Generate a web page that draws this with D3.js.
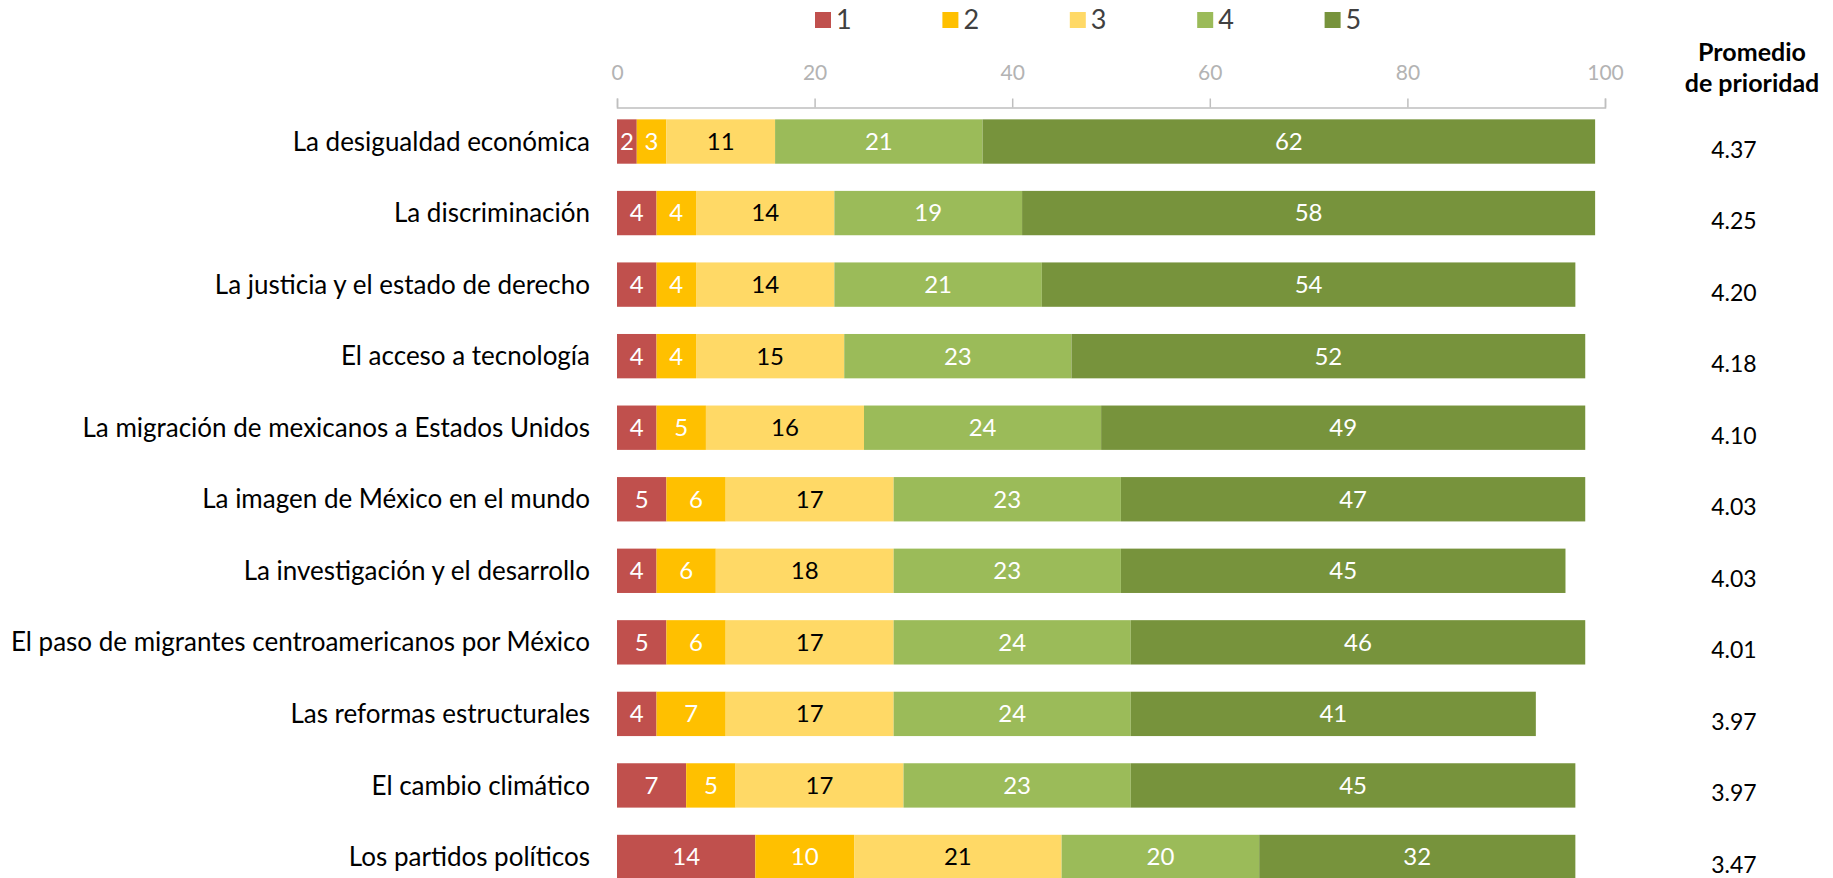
<!DOCTYPE html>
<html>
<head>
<meta charset="utf-8">
<script src="https://cdn.jsdelivr.net/npm/d3@7"></script>
<style>
  body { margin: 0; background: #fff; }
  svg text { font-family: Lato, "Open Sans", sans-serif; }
</style>
</head>
<body>
<div id="chart"></div>
<script>
// Categories (top to bottom)
const categories = [
  "La desigualdad económica",
  "La discriminación",
  "La justicia y el estado de derecho",
  "El acceso a tecnología",
  "La migración de mexicanos a Estados Unidos",
  "La imagen de México en el mundo",
  "La investigación y el desarrollo",
  "El paso de migrantes centroamericanos por México",
  "Las reformas estructurales",
  "El cambio climático",
  "Los partidos políticos"
];

// Percentage of answers per priority level
const serie1 = [2, 4, 4, 4, 4, 5, 4, 5, 4, 7, 14];
const serie2 = [3, 4, 4, 4, 5, 6, 6, 6, 7, 5, 10];
const serie3 = [11, 14, 14, 15, 16, 17, 18, 17, 17, 17, 21];
const serie4 = [21, 19, 21, 23, 24, 23, 23, 24, 24, 23, 20];
const serie5 = [62, 58, 54, 52, 49, 47, 45, 46, 41, 45, 32];

const seriesNames = ["1", "2", "3", "4", "5"];
const promedio = ["4.37", "4.25", "4.20", "4.18", "4.10", "4.03", "4.03", "4.01", "3.97", "3.97", "3.47"];
const xTicks = [0, 20, 40, 60, 80, 100];

const colors = ["#C0504D", "#FFC000", "#FFD966", "#9BBB59", "#77933C"];
const labelColors = ["#fff", "#fff", "#000", "#fff", "#fff"];

const width = 1833, height = 878;

// build table for stacking
const table = categories.map((c, i) => ({
  cat: c, "1": serie1[i], "2": serie2[i], "3": serie3[i], "4": serie4[i], "5": serie5[i]
}));
const stacked = d3.stack().keys(seriesNames)(table);

const svg = d3.select("#chart").append("svg")
  .attr("width", width)
  .attr("height", height);

const x = d3.scaleLinear().domain([0, 100]).range([617, 1605]);
const y = d3.scaleBand()
  .domain(categories)
  .range([105.75, 892.75])
  .paddingInner(0.38)
  .paddingOuter(0.19);

// top axis
const axis = svg.append("g")
  .attr("transform", "translate(0,107.5)")
  .call(d3.axisTop(x).tickValues(xTicks).tickSize(9).tickPadding(19));
axis.selectAll("path, line").attr("stroke", "#bfbfbf").attr("stroke-width", 1.5);
axis.selectAll("text")
  .attr("fill", "#b3b3b3")
  .style("font-size", "21px")
  .style("font-family", "Lato, sans-serif");

// bars
const layer = svg.selectAll(".layer")
  .data(stacked)
  .enter().append("g")
  .attr("fill", (d, i) => colors[i]);

layer.selectAll("rect")
  .data(d => d)
  .enter().append("rect")
  .attr("x", d => x(d[0]))
  .attr("y", d => y(d.data.cat))
  .attr("width", d => x(d[1]) - x(d[0]))
  .attr("height", y.bandwidth());

// data labels
stacked.forEach((s, i) => {
  svg.append("g").selectAll("text")
    .data(s)
    .enter().append("text")
    .attr("x", d => (x(d[0]) + x(d[1])) / 2)
    .attr("y", d => y(d.data.cat) + y.bandwidth() / 2)
    .attr("dy", "0.35em")
    .attr("text-anchor", "middle")
    .attr("fill", labelColors[i])
    .style("font-size", "24px")
    .text(d => d[1] - d[0]);
});

// category labels
svg.append("g").selectAll("text")
  .data(categories)
  .enter().append("text")
  .attr("x", 590)
  .attr("y", d => y(d) + y.bandwidth() / 2)
  .attr("dy", "0.35em")
  .attr("text-anchor", "end")
  .attr("fill", "#000")
  .style("font-size", "26px")
  .text(d => d);

// average column
svg.append("text")
  .attr("x", 1752).attr("y", 61)
  .attr("text-anchor", "middle")
  .style("font-size", "25px").style("font-weight", "bold")
  .text("Promedio");
svg.append("text")
  .attr("x", 1752).attr("y", 92)
  .attr("text-anchor", "middle")
  .style("font-size", "25px").style("font-weight", "bold")
  .text("de prioridad");

svg.append("g").selectAll("text")
  .data(promedio)
  .enter().append("text")
  .attr("x", 1734)
  .attr("y", (d, i) => y(categories[i]) + y.bandwidth() / 2 + 8)
  .attr("dy", "0.35em")
  .attr("text-anchor", "middle")
  .style("font-size", "23px")
  .text(d => d);

// legend
const legend = svg.append("g").selectAll("g")
  .data(seriesNames)
  .enter().append("g")
  .attr("transform", (d, i) => `translate(${815 + i * 127.4},12)`);
legend.append("rect")
  .attr("width", 16).attr("height", 16)
  .attr("fill", (d, i) => colors[i]);
legend.append("text")
  .attr("x", 21).attr("y", 8)
  .attr("dy", "0.35em")
  .attr("fill", "#404040")
  .style("font-size", "27px")
  .text(d => d);
</script>
</body>
</html>
